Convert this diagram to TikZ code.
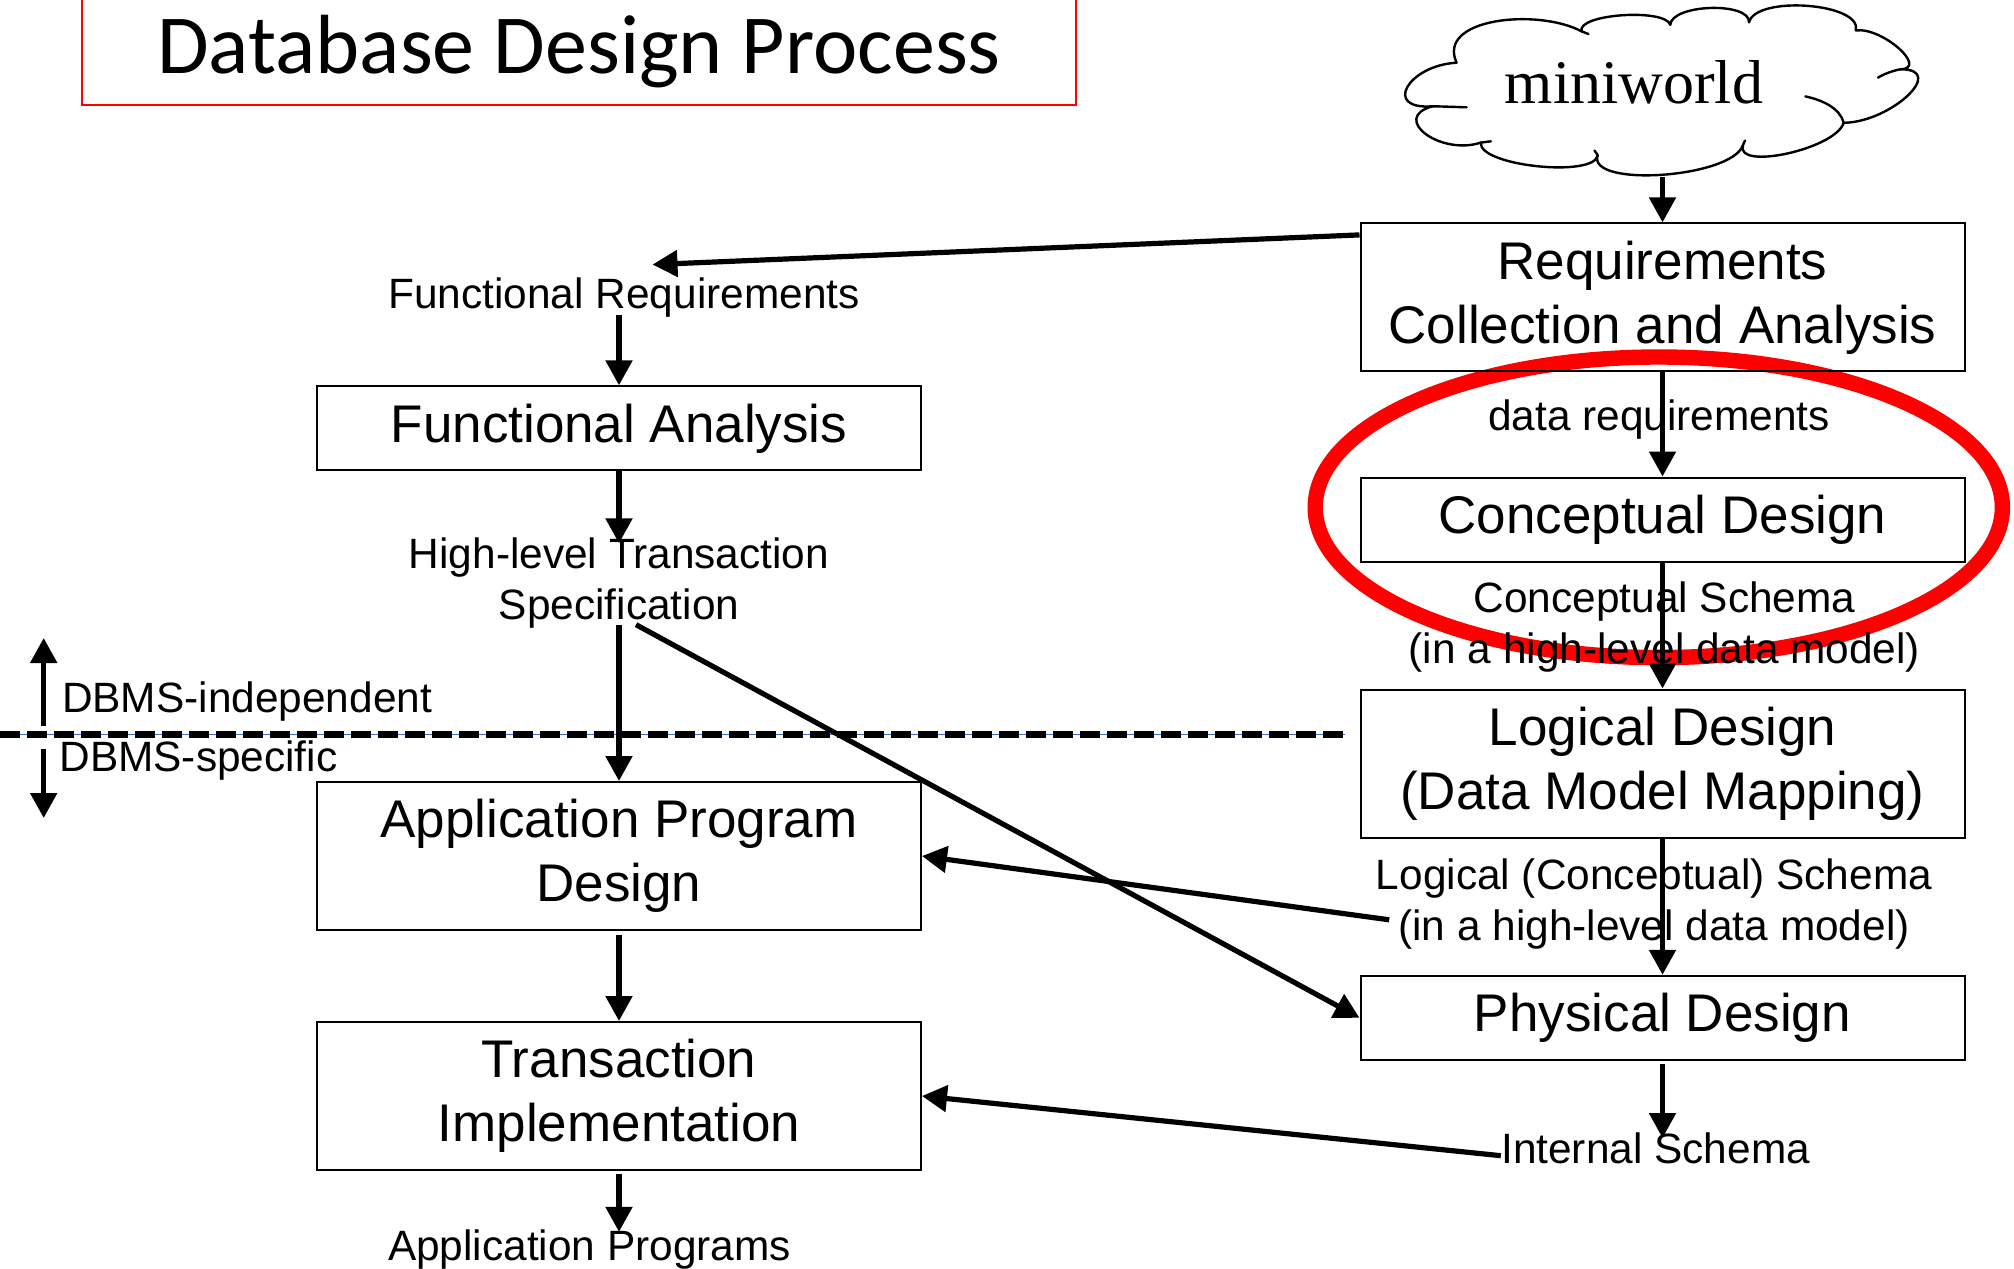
\documentclass[tikz,border=0pt]{standalone}
\usepackage{fontspec}
\setmainfont{Liberation Sans}
\newfontfamily\titlefont{Carlito}
\newfontfamily\cloudfont{Liberation Serif}
\usetikzlibrary{arrows.meta}
\definecolor{guideblue}{RGB}{68,114,196}
\begin{document}
\begin{tikzpicture}[x=0.5pt,y=-0.5pt,
  box/.style={draw,line width=1pt,minimum width=302pt,inner sep=0pt,align=center,
    font=\fontsize{26.5}{32}\selectfont},
  tallbox/.style={box,minimum height=74pt},
  flatbox/.style={box,minimum height=42pt},
  lbl/.style={align=center,inner sep=0pt,font=\fontsize{21.2}{25.5}\selectfont},
  arr/.style={line width=2.6pt,-{Triangle[length=12.5pt,width=13pt]}},
  outline/.style={line width=1.2pt,line join=round,line cap=round},
]
\useasboundingbox (0,0) rectangle (2014,1269);

% highlight ring behind the conceptual stage
\draw[red,line width=7.7pt] (1658.8,507.3) ellipse [x radius=171.8pt,y radius=75.15pt];

% title, framed on three sides
\draw[red,line width=1.3pt] (82,-5) -- (82,105) -- (1076,105) -- (1076,-5);
\node[font=\titlefont\fontsize{42}{50}\selectfont,inner sep=0pt] (title) at (579,52) {Database Design Process};

% miniworld: cloud outline made of puffs, plus the short inner hooks
\node[inner sep=0pt,minimum width=250pt,minimum height=81pt] (cloud) at (1660,92) {};
\draw[outline]
  (1456.6,62.7) .. controls (1408,65.4) and (1382,110) .. (1432.4,106.3)
  .. controls (1390,118) and (1440,156) .. (1480.8,142.6)
  .. controls (1478.2,166) and (1595.1,178) .. (1597.7,155.1)
  .. controls (1586.6,188) and (1731.8,178) .. (1742.9,145.2)
  .. controls (1734.9,171) and (1835.7,149) .. (1843.7,122.8)
  .. controls (1891,122.3) and (1948,68.8) .. (1900.2,69.3)
  .. controls (1929,68.8) and (1882.6,27) .. (1855.8,30.4)
  .. controls (1862.5,3) and (1755.7,-5) .. (1749,22.4)
  .. controls (1750.3,1.5) and (1671.6,4) .. (1670.3,24.8)
  .. controls (1664.9,8) and (1576.2,14) .. (1581.6,31.4)
  .. controls (1538,8) and (1436,18) .. cycle;
\draw[outline] (1432.4,106.3) .. controls (1445,106.5) and (1455,107) .. (1466.7,107.3);
\draw[outline] (1480.8,142.6) -- (1490.9,141.3);
\draw[outline] (1597.7,155.1) -- (1594.5,150.5);
\draw[outline] (1742.9,145.2) -- (1745,140.5);
\draw[outline] (1843.7,122.8) .. controls (1840,108) and (1822,100) .. (1805.4,96.4);
\draw[outline] (1900.2,69.3) .. controls (1892,71) and (1884,74) .. (1878,77.6);
\draw[outline] (1581.6,31.4) -- (1588.5,34);
\node[font=\cloudfont\fontsize{31}{36}\selectfont,inner sep=0pt] (mw) at (1634,82) {miniworld};

% database-side stages
\node[tallbox] (rca) at (1662.5,297.4) {Requirements\\Collection and Analysis};
\node[flatbox] (cd) at (1662.5,519.5) {Conceptual Design};
\node[tallbox] (ld) at (1662.5,763.5) {Logical Design\\(Data Model Mapping)};
\node[flatbox] (pd) at (1662.5,1017.8) {Physical Design};

% application-side stages
\node[flatbox] (fa) at (619,428.3) {Functional Analysis};
\node[tallbox] (apd) at (619,856) {Application Program\\Design};
\node[tallbox] (ti) at (619,1096) {Transaction\\Implementation};

% products of the stages
\node[lbl] (fr) at (624,298) {Functional Requirements};
\node[lbl] (hlts) at (619,583) {High-level Transaction\\Specification};
\node[lbl] (ap) at (589.5,1250) {Application Programs};
\node[lbl] (dr) at (1659,420) {data requirements};
\node[lbl] (cs) at (1664.5,627) {Conceptual Schema\\(in a high-level data model)};
\node[lbl] (ls) at (1654,904) {Logical (Conceptual) Schema\\(in a high-level data model)};
\node[lbl] (is) at (1655.6,1148) {Internal Schema};

% DBMS boundary
\coordinate (dashL) at (0,734.7);
\coordinate (dashR) at (1345,734.7);
\draw[guideblue,line width=0.5pt] (dashL) -- (dashR);
\draw[line width=3.3pt,dash pattern=on 10pt off 3.5pt] (dashL) -- (dashR);
\node[lbl,anchor=west] (dind) at (61.7,701.4) {DBMS-independent};
\node[lbl,anchor=west] (dspec) at (59,760.5) {DBMS-specific};
\coordinate (upfrom) at (43.7,725.7);
\coordinate (upto) at (43.7,638);
\coordinate (downfrom) at (43.7,749);
\coordinate (downto) at (43.7,818);
\draw[arr] (upfrom) -- (upto);
\draw[arr] (downfrom) -- (downto);

% flow
\coordinate (frin) at (652.5,264.6);
\draw[arr] ([yshift=-2pt]cloud.south -| rca.north) -- (rca.north);
\draw[arr] ([yshift=-6.25pt]rca.north west) -- (frin);
\draw[arr] ([yshift=1.5pt]fr.south -| fa.north) -- (fa.north);
\draw[arr] (fa.south) -- ([yshift=-3pt]hlts.north);
\draw[arr] ([yshift=2pt]hlts.south) -- (apd.north);
\draw[arr] ([xshift=8.5pt,yshift=2pt]hlts.south) -- (pd.west);
\draw[arr] ([yshift=-2pt]apd.south) -- (ti.north);
\draw[arr] ([yshift=-1.5pt]ti.south) -- ([yshift=-1pt]ap.north -| ti.south);
\draw[arr] (rca.south) -- (cd.north);
\draw[arr] (cd.south) -- (ld.north);
\draw[arr] (ld.south) -- (pd.north);
\draw[arr] ([yshift=-1.5pt]pd.south) -- ([yshift=-3pt]is.north -| pd.south);
\draw[arr] ([xshift=6.85pt,yshift=-7.9pt]ls.west) -- (apd.east);
\draw[arr] ([yshift=-3.85pt]is.west) -- (ti.east);
\end{tikzpicture}
\end{document}
